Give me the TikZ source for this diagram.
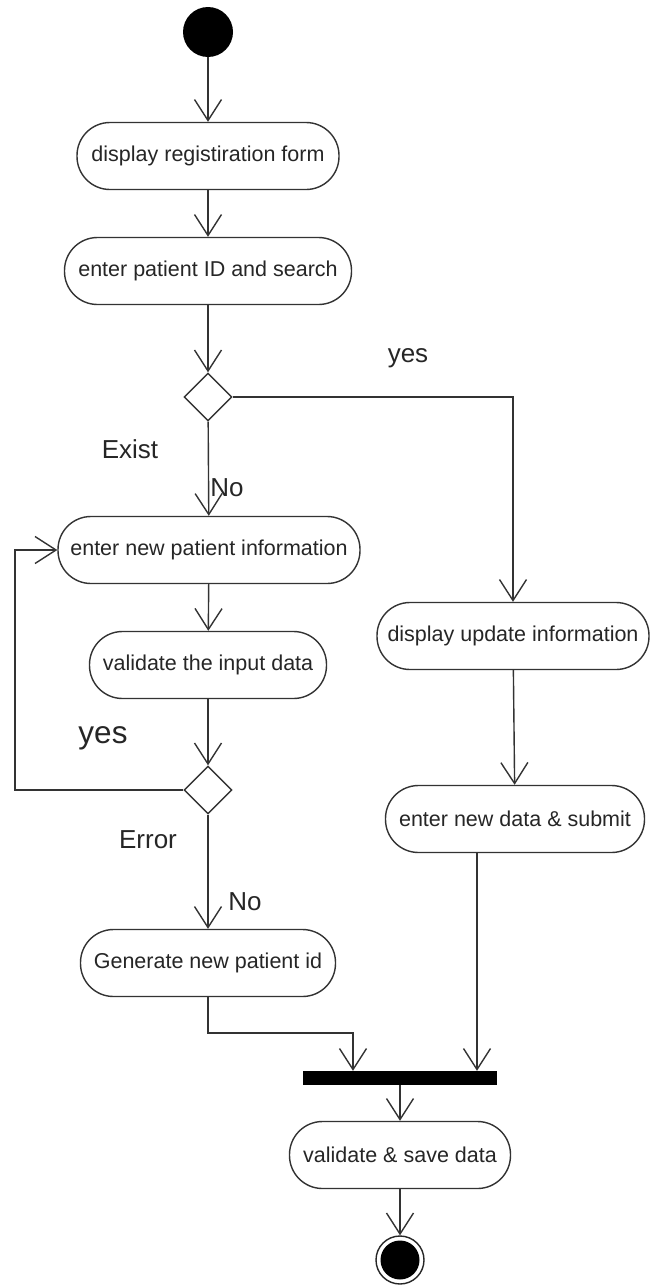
\documentclass[tikz,border=0pt]{standalone}
\usepackage{fontspec}
\setmainfont{Liberation Sans}
\usetikzlibrary{arrows.meta,shapes.geometric}
\begin{document}
\begin{tikzpicture}[x=1pt,y=-1pt,
  line/.style={draw=black!80,line width=1.4pt},
  flow/.style={line,-{Straight Barb[length=21pt,width=27pt,line width=1.4pt]}},
  action/.style={line,rectangle,rounded corners=33pt,minimum height=67pt,
    inner sep=0pt,fill=white,font=\fontsize{21.5}{24}\selectfont,text=black!85},
  choice/.style={line,diamond,minimum width=48pt,minimum height=48pt,inner sep=0pt,fill=white},
  guard/.style={font=\fontsize{26}{30}\selectfont,text=black!85,inner sep=0pt},
  bar/.style={fill=black,draw=none,minimum width=194pt,minimum height=14pt,inner sep=0pt}]
\useasboundingbox (0,0) rectangle (649,1285);

% initial and final states
\node (start) [circle,fill=black,minimum size=50pt,inner sep=0pt] at (208,32) {};
\node (stop) [circle,draw=black!85,line width=1.4pt,minimum size=48pt,inner sep=0pt] at (400,1260) {};
\fill[black] (stop.center) circle[radius=19.5pt];

% actions
\node (b1) [action,minimum width=262pt] at (208,156) {display registiration form};
\node (b2) [action,minimum width=287pt] at (208,271) {enter patient ID and search};
\node (b3) [action,minimum width=302pt] at (209,550) {enter new patient information};
\node (b4) [action,minimum width=237pt] at (208,665) {validate the input data};
\node (b5) [action,minimum width=272pt] at (513,636) {display update information};
\node (b6) [action,minimum width=259pt] at (515,819) {enter new data \& submit};
\node (b7) [action,minimum width=255pt] at (208,963) {Generate new patient id};
\node (b8) [action,minimum width=221pt] at (400,1155) {validate \& save data};

% decisions and join bar
\node (d1) [choice] at (208,397) {};
\node (d2) [choice] at (208,790) {};
\node (join) [bar] at (400,1078) {};

% routing points
\coordinate (loop) at (15,550);
\coordinate (j1) at (353,1033);
\coordinate (j2) at (477,1000);

% flows
\draw[flow] (start) -- (b1);
\draw[flow] (b1) -- (b2);
\draw[flow] (b2) -- (d1);
\draw[flow] (d1) -- (b3);
\draw[flow] (d1.east) -| (b5.north);
\draw[flow] (b3) -- (b4);
\draw[flow] (b4) -- (d2);
\draw[flow] (d2.west) -| (loop) -- (b3.west);
\draw[flow] (d2) -- (b7);
\draw[flow] (b5) -- (b6);
\draw[flow] (b7.south) |- (j1) -- (j1 |- join.north);
\draw[flow] (b6.south -| j2) -- (j2 |- join.north);
\draw[flow] (join) -- (b8);
\draw[flow] (b8) -- (stop);

% guards
\node[guard] (lyes1) at (408,358) {yes};
\node[guard] (lexist) at (130,449) {Exist};
\node[guard] (lno1) at (227,488) {No};
\node[guard,font=\fontsize{31.5}{36}\selectfont] (lyes2) at (103,738) {yes};
\node[guard] (lerror) at (148,840) {Error};
\node[guard] (lno2) at (245,902) {No};
\end{tikzpicture}
\end{document}
